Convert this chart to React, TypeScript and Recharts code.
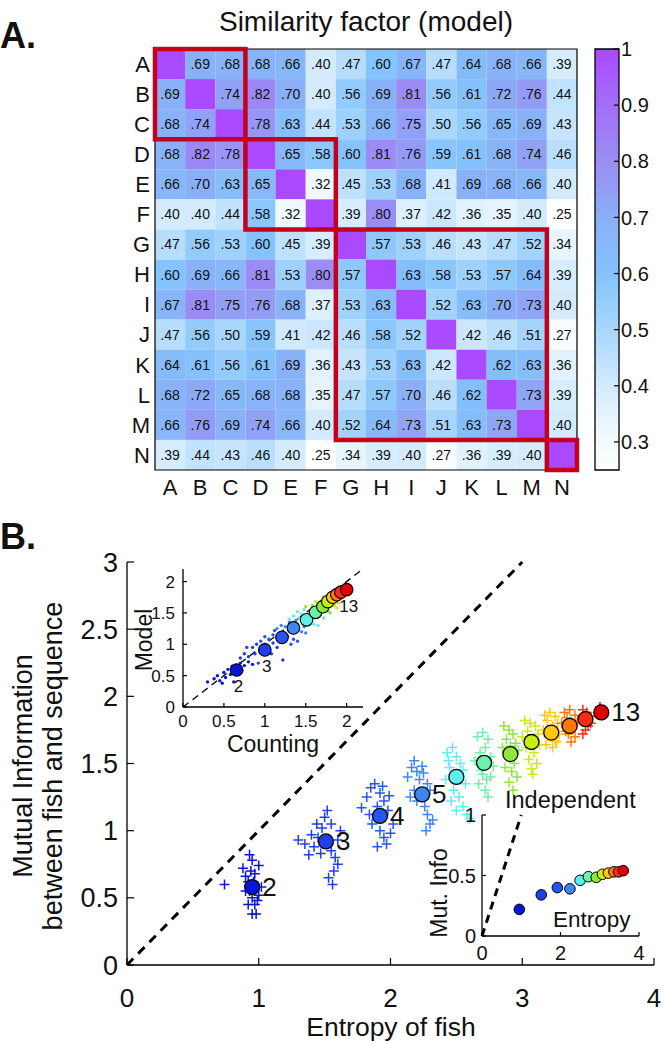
import React from 'react';
import { ScatterChart, Scatter, XAxis, YAxis, ReferenceArea, ReferenceLine } from 'recharts';

// ---------- panel A data ----------
const fishLetters = ['A', 'B', 'C', 'D', 'E', 'F', 'G', 'H', 'I', 'J', 'K', 'L', 'M', 'N'];
const rowA = [1, 0.69, 0.68, 0.68, 0.66, 0.4, 0.47, 0.6, 0.67, 0.47, 0.64, 0.68, 0.66, 0.39];
const rowB = [0.69, 1, 0.74, 0.82, 0.7, 0.4, 0.56, 0.69, 0.81, 0.56, 0.61, 0.72, 0.76, 0.44];
const rowC = [0.68, 0.74, 1, 0.78, 0.63, 0.44, 0.53, 0.66, 0.75, 0.5, 0.56, 0.65, 0.69, 0.43];
const rowD = [0.68, 0.82, 0.78, 1, 0.65, 0.58, 0.6, 0.81, 0.76, 0.59, 0.61, 0.68, 0.74, 0.46];
const rowE = [0.66, 0.7, 0.63, 0.65, 1, 0.32, 0.45, 0.53, 0.68, 0.41, 0.69, 0.68, 0.66, 0.4];
const rowF = [0.4, 0.4, 0.44, 0.58, 0.32, 1, 0.39, 0.8, 0.37, 0.42, 0.36, 0.35, 0.4, 0.25];
const rowG = [0.47, 0.56, 0.53, 0.6, 0.45, 0.39, 1, 0.57, 0.53, 0.46, 0.43, 0.47, 0.52, 0.34];
const rowH = [0.6, 0.69, 0.66, 0.81, 0.53, 0.8, 0.57, 1, 0.63, 0.58, 0.53, 0.57, 0.64, 0.39];
const rowI = [0.67, 0.81, 0.75, 0.76, 0.68, 0.37, 0.53, 0.63, 1, 0.52, 0.63, 0.7, 0.73, 0.4];
const rowJ = [0.47, 0.56, 0.5, 0.59, 0.41, 0.42, 0.46, 0.58, 0.52, 1, 0.42, 0.46, 0.51, 0.27];
const rowK = [0.64, 0.61, 0.56, 0.61, 0.69, 0.36, 0.43, 0.53, 0.63, 0.42, 1, 0.62, 0.63, 0.36];
const rowL = [0.68, 0.72, 0.65, 0.68, 0.68, 0.35, 0.47, 0.57, 0.7, 0.46, 0.62, 1, 0.73, 0.39];
const rowM = [0.66, 0.76, 0.69, 0.74, 0.66, 0.4, 0.52, 0.64, 0.73, 0.51, 0.63, 0.73, 1, 0.4];
const rowN = [0.39, 0.44, 0.43, 0.46, 0.4, 0.25, 0.34, 0.39, 0.4, 0.27, 0.36, 0.39, 0.4, 1];
const similarity = [rowA, rowB, rowC, rowD, rowE, rowF, rowG, rowH, rowI, rowJ, rowK, rowL, rowM, rowN];
// first and last fish of each boxed group
const fishBlocks = [[0, 2], [3, 5], [6, 12], [13, 13]];
const colorbarTicks = [0.3, 0.4, 0.5, 0.6, 0.7, 0.8, 0.9, 1];

// ---------- panel B data ----------
const groupSizes = [2, 3, 4, 5, 6, 7, 8, 9, 10, 11, 12, 13];
const meanEntropy = [0.95, 1.51, 1.92, 2.24, 2.5, 2.71, 2.91, 3.07, 3.22, 3.36, 3.48, 3.6];
const meanMutualInfo = [0.58, 0.92, 1.11, 1.27, 1.4, 1.505, 1.57, 1.66, 1.73, 1.78, 1.83, 1.88];
const independentMutualInfo = [0.22, 0.34, 0.4, 0.39, 0.46, 0.49, 0.485, 0.51, 0.52, 0.53, 0.53, 0.54];
const countingMean = [0.655, 1.0, 1.21, 1.35, 1.51, 1.62, 1.71, 1.77, 1.83, 1.88, 1.93, 2.0];
const modelMean = [0.59, 0.91, 1.11, 1.26, 1.39, 1.51, 1.6, 1.68, 1.75, 1.79, 1.83, 1.87];

const cloud2 = [[0.74, 0.6], [0.88, 0.72], [0.9, 0.66], [0.92, 0.62], [0.93, 0.55], [0.95, 0.5], [0.97, 0.45], [0.92, 0.45], [0.98, 0.38], [0.95, 0.38], [1.0, 0.52], [1.02, 0.58], [0.97, 0.68], [0.95, 0.78], [0.93, 0.82], [1.0, 0.74], [0.9, 0.55], [0.96, 0.62], [0.99, 0.48], [0.94, 0.7]];
const cloud3 = [[1.3, 0.93], [1.35, 0.9], [1.4, 0.97], [1.42, 0.88], [1.45, 0.95], [1.48, 1.02], [1.5, 1.1], [1.52, 1.15], [1.55, 1.05], [1.55, 0.85], [1.58, 0.8], [1.6, 0.75], [1.57, 0.7], [1.53, 0.65], [1.6, 0.93], [1.47, 0.83], [1.62, 1.0], [1.44, 1.05], [1.38, 0.82], [1.56, 0.6]];
const cloud4 = [[1.78, 1.17], [1.82, 1.25], [1.85, 1.32], [1.88, 1.35], [1.92, 1.28], [1.95, 1.22], [1.9, 1.18], [1.98, 1.15], [1.86, 1.05], [1.92, 1.0], [1.95, 0.95], [2.0, 0.98], [1.97, 0.9], [1.9, 0.88], [2.02, 1.05], [1.84, 1.12], [1.94, 1.33], [1.99, 1.26]];
const cloud5 = [[2.13, 1.4], [2.16, 1.47], [2.18, 1.52], [2.2, 1.44], [2.22, 1.38], [2.25, 1.43], [2.28, 1.35], [2.3, 1.3], [2.18, 1.3], [2.2, 1.22], [2.26, 1.18], [2.28, 1.12], [2.3, 1.05], [2.27, 1.0], [2.32, 1.08], [2.15, 1.25], [2.24, 1.48]];
const cloud6 = [[2.43, 1.58], [2.47, 1.62], [2.5, 1.55], [2.53, 1.5], [2.45, 1.47], [2.55, 1.45], [2.42, 1.38], [2.57, 1.35], [2.48, 1.3], [2.52, 1.25], [2.46, 1.22], [2.55, 1.18], [2.58, 1.12], [2.6, 1.09], [2.5, 1.15], [2.44, 1.52]];
const cloud7 = [[2.66, 1.7], [2.7, 1.73], [2.74, 1.68], [2.72, 1.62], [2.68, 1.58], [2.76, 1.55], [2.64, 1.52], [2.78, 1.48], [2.7, 1.42], [2.73, 1.38], [2.67, 1.35], [2.76, 1.4], [2.72, 1.3], [2.74, 1.25], [2.69, 1.45]];
const cloud8 = [[2.86, 1.78], [2.9, 1.75], [2.93, 1.72], [2.88, 1.68], [2.95, 1.65], [2.85, 1.62], [2.97, 1.6], [2.89, 1.55], [2.94, 1.5], [2.87, 1.47], [2.92, 1.44], [2.96, 1.4], [2.9, 1.36], [2.93, 1.3], [2.91, 1.63]];
const cloud9 = [[3.02, 1.82], [3.06, 1.8], [3.1, 1.78], [3.04, 1.74], [3.12, 1.72], [3.0, 1.7], [3.08, 1.68], [3.13, 1.64], [3.03, 1.62], [3.09, 1.58], [3.05, 1.53], [3.11, 1.5], [3.07, 1.46], [3.08, 1.42]];
const cloud10 = [[3.17, 1.86], [3.21, 1.88], [3.25, 1.85], [3.19, 1.82], [3.27, 1.8], [3.23, 1.78], [3.16, 1.75], [3.28, 1.72], [3.2, 1.7], [3.25, 1.67], [3.18, 1.64], [3.23, 1.62], [3.26, 1.66]];
const cloud11 = [[3.32, 1.88], [3.36, 1.9], [3.4, 1.86], [3.34, 1.84], [3.42, 1.82], [3.3, 1.8], [3.38, 1.76], [3.35, 1.72], [3.4, 1.7], [3.37, 1.66], [3.33, 1.74]];
const cloud12 = [[3.46, 1.9], [3.49, 1.88], [3.51, 1.85], [3.47, 1.82], [3.5, 1.78], [3.48, 1.75], [3.46, 1.72], [3.52, 1.8]];
const cloud13 = [[3.58, 1.9], [3.61, 1.86], [3.59, 1.92], [3.62, 1.89]];
const clouds = [cloud2, cloud3, cloud4, cloud5, cloud6, cloud7, cloud8, cloud9, cloud10, cloud11, cloud12, cloud13];

// inset: counting vs model estimates
const dots2 = [[0.3, 0.4], [0.38, 0.45], [0.42, 0.5], [0.45, 0.42], [0.5, 0.55], [0.52, 0.47], [0.55, 0.6], [0.58, 0.52], [0.6, 0.65], [0.63, 0.55], [0.68, 0.62], [0.7, 0.7], [0.72, 0.58], [0.75, 0.66], [0.8, 0.72], [0.85, 0.68], [0.62, 0.4], [0.48, 0.38]];
const dots3 = [[0.7, 0.78], [0.75, 0.85], [0.8, 0.8], [0.85, 0.95], [0.88, 0.85], [0.9, 1.0], [0.95, 0.9], [1.0, 1.0], [1.05, 0.92], [1.1, 1.02], [1.15, 0.95], [1.2, 1.05], [1.22, 0.75], [0.92, 0.7], [1.08, 0.85], [0.78, 0.95]];
const dots4 = [[0.95, 1.05], [1.0, 1.12], [1.05, 1.08], [1.1, 1.15], [1.15, 1.1], [1.2, 1.18], [1.25, 1.05], [1.28, 1.12], [1.32, 1.0], [1.35, 1.08], [1.12, 1.22], [1.4, 1.05]];
const dots5 = [[1.15, 1.25], [1.2, 1.3], [1.25, 1.28], [1.3, 1.35], [1.35, 1.22], [1.4, 1.3], [1.45, 1.2], [1.48, 1.28], [1.38, 1.38], [1.5, 1.18]];
const dots6 = [[1.3, 1.4], [1.35, 1.45], [1.42, 1.42], [1.48, 1.35], [1.55, 1.38], [1.6, 1.32], [1.58, 1.45], [1.65, 1.3], [1.45, 1.48]];
const dots7 = [[1.4, 1.52], [1.48, 1.55], [1.55, 1.5], [1.6, 1.58], [1.68, 1.48], [1.72, 1.42], [1.65, 1.55]];
const dots8 = [[1.5, 1.6], [1.58, 1.62], [1.65, 1.65], [1.72, 1.58], [1.78, 1.52], [1.8, 1.5]];
const dots9 = [[1.62, 1.68], [1.7, 1.7], [1.78, 1.65], [1.85, 1.62], [1.88, 1.58]];
const dots10 = [[1.72, 1.75], [1.8, 1.76], [1.86, 1.7], [1.9, 1.66]];
const dots11 = [[1.78, 1.8], [1.85, 1.8], [1.92, 1.75]];
const dots12 = [[1.85, 1.84], [1.92, 1.86], [1.96, 1.8]];
const dots13 = [[1.95, 1.9], [2.0, 1.88]];
const insetDots = [dots2, dots3, dots4, dots5, dots6, dots7, dots8, dots9, dots10, dots11, dots12, dots13];

// ---------- styles ----------
const FONT = "'Liberation Sans', Arial, Helvetica, sans-serif";
const groupColors = ['#0a14d6', '#1f3fec', '#2455f2', '#3e86f1', '#5eeeee', '#6ff0aa', '#8de83c', '#c9ec12', '#ffc812', '#ff7800', '#ff2a12', '#e00000'];
const cmapStops: [number, string][] = [
  [0.25, '#ffffff'], [0.32, '#eef8fe'], [0.4, '#d3ebfd'], [0.5, '#a9d7fc'], [0.6, '#84c3fc'],
  [0.7, '#8aaff7'], [0.8, '#9a8ef4'], [0.9, '#a36ef8'], [1.0, '#a94aff'],
];
const boxRed = '#c4001c';
const axisLine = { stroke: '#000', strokeWidth: 1.3 };
const tickLine = { stroke: '#000', strokeWidth: 1.2 };

const hex = (c: string) => [1, 3, 5].map((i) => parseInt(c.slice(i, i + 2), 16));
const cmap = (v: number) => {
  for (let i = 1; i < cmapStops.length; i++) {
    const [v1, c1] = cmapStops[i];
    const [v0, c0] = cmapStops[i - 1];
    if (v <= v1) {
      const t = Math.max(0, (v - v0) / (v1 - v0));
      const a = hex(c0);
      const b = hex(c1);
      return `rgb(${a.map((x, k) => Math.round(x + (b[k] - x) * t)).join(',')})`;
    }
  }
  return cmapStops[cmapStops.length - 1][1];
};

const noShape = () => <g />;
const plusShape = (color: string) => (props: any) => {
  const { cx, cy } = props;
  return <path d={`M${cx - 5},${cy}H${cx + 5}M${cx},${cy - 5}V${cy + 5}`} stroke={color} strokeWidth={1.5} fill="none" />;
};
const dotShape = (color: string) => (props: any) => <circle cx={props.cx} cy={props.cy} r={1.7} fill={color} />;

const mainLabelled = [2, 3, 4, 5, 13];
const mainMeanShape = (props: any) => {
  const { cx, cy, payload } = props;
  const color = groupColors[groupSizes.indexOf(payload.group)];
  return (
    <g>
      <circle cx={cx} cy={cy} r={7.5} fill={color} stroke="#000" strokeWidth={1.3} />
      {mainLabelled.includes(payload.group) && (
        <text x={cx + 10} y={cy} dominantBaseline="central" fontSize={26} fill="#111">{payload.group}</text>
      )}
    </g>
  );
};
const insetLabelled = [2, 3, 13];
const insetMeanShape = (props: any) => {
  const { cx, cy, payload } = props;
  const color = groupColors[groupSizes.indexOf(payload.group)];
  return (
    <g>
      <circle cx={cx} cy={cy} r={6.3} fill={color} stroke="#000" strokeWidth={1.1} />
      {insetLabelled.includes(payload.group) && (
        <text x={cx + 2} y={cy + 17} textAnchor="middle" dominantBaseline="central" fontSize={17} fill="#111">{payload.group}</text>
      )}
    </g>
  );
};
const independentShape = (props: any) => {
  const { cx, cy, payload } = props;
  const color = groupColors[groupSizes.indexOf(payload.group)];
  return <circle cx={cx} cy={cy} r={5.3} fill={color} stroke="#000" strokeWidth={1} />;
};

const toPoints = (pairs: number[][]) => pairs.map(([x, y]) => ({ x, y }));

function Heatmap() {
  const cells = similarity.flatMap((row, r) => row.map((v, c) => ({ r, c, v })));
  return (
    <ScatterChart width={600} height={510} margin={{ top: 49, right: 23, bottom: 0, left: 125 }}>
      <XAxis type="number" dataKey="x" domain={[-0.5, 13.5]} ticks={fishLetters.map((_, i) => i)} interval={0}
        tickFormatter={(i) => fishLetters[i]} height={40} tickSize={0} tickMargin={9} axisLine={false} tickLine={false}
        tick={{ fontSize: 22, fill: '#111' }} />
      <YAxis type="number" dataKey="y" domain={[-0.5, 13.5]} reversed ticks={fishLetters.map((_, i) => i)} interval={0}
        tickFormatter={(i) => fishLetters[i]} width={30} tickSize={0} tickMargin={5} axisLine={false} tickLine={false}
        tick={{ fontSize: 22, fill: '#111' }} />
      <Scatter data={cells.map((d) => ({ x: d.c, y: d.r }))} shape={noShape} isAnimationActive={false} />
      {cells.map((d) => (
        <ReferenceArea key={`${d.r}-${d.c}`} x1={d.c - 0.5} x2={d.c + 0.5} y1={d.r - 0.5} y2={d.r + 0.5}
          fill={cmap(d.v)} fillOpacity={1} stroke="none"
          label={d.r === d.c ? undefined : { value: d.v.toFixed(2).slice(1), position: 'center', fontSize: 14, fill: '#111' }} />
      ))}
      <ReferenceArea x1={-0.5} x2={13.5} y1={-0.5} y2={13.5} fill="none" stroke="#000" strokeWidth={1.2} />
      {fishBlocks.map(([a, b]) => (
        <ReferenceArea key={`blk${a}`} x1={a - 0.5} x2={b + 0.5} y1={a - 0.5} y2={b + 0.5}
          fill="none" stroke={boxRed} strokeWidth={4.5} />
      ))}
    </ScatterChart>
  );
}

function Colorbar() {
  return (
    <ScatterChart width={104} height={510} margin={{ top: 49, right: 0, bottom: 40, left: 35 }}>
      <defs>
        <linearGradient id="simCbar" x1="0" y1="1" x2="0" y2="0">
          {cmapStops.map(([v, c]) => (
            <stop key={v} offset={(v - 0.25) / 0.75} stopColor={c} />
          ))}
        </linearGradient>
      </defs>
      <XAxis type="number" dataKey="x" domain={[0, 1]} hide />
      <YAxis yAxisId="left" type="number" domain={[0.25, 1]} ticks={colorbarTicks} width={0} tick={false}
        tickSize={-5} axisLine={false} tickLine={tickLine} />
      <YAxis type="number" dataKey="y" orientation="right" domain={[0.25, 1]} ticks={colorbarTicks} interval={0} width={45}
        tickSize={-5} tickMargin={7} axisLine={false} tickLine={tickLine} tick={{ fontSize: 20, fill: '#111' }} />
      <Scatter data={[{ x: 0.5, y: 0.5 }]} shape={noShape} isAnimationActive={false} />
      <ReferenceArea x1={0} x2={1} y1={0.25} y2={1} fill="url(#simCbar)" fillOpacity={1} stroke="#000" strokeWidth={1.3} />
    </ScatterChart>
  );
}

function MainScatter() {
  const means = groupSizes.map((g, i) => ({ x: meanEntropy[i], y: meanMutualInfo[i], group: g }));
  const xt = [0, 1, 2, 3, 4];
  const yt = [0, 0.5, 1, 1.5, 2, 2.5, 3];
  return (
    <ScatterChart width={664} height={501} margin={{ top: 22, right: 10, bottom: 0, left: 0 }}>
      <XAxis type="number" dataKey="x" domain={[0, 4]} ticks={xt} interval={0} height={76} tickSize={-7} tickMargin={31}
        axisLine={axisLine} tickLine={tickLine} tick={{ fontSize: 26, fill: '#111' }} />
      <XAxis xAxisId="top" orientation="top" type="number" domain={[0, 4]} ticks={xt} interval={0} height={0}
        tickSize={-7} tick={false} axisLine={axisLine} tickLine={tickLine} />
      <YAxis type="number" dataKey="y" domain={[0, 3]} ticks={yt} interval={0} width={127} tickSize={-7} tickMargin={16}
        axisLine={axisLine} tickLine={tickLine} tick={{ fontSize: 27, fill: '#111' }} />
      <YAxis yAxisId="right" orientation="right" type="number" domain={[0, 3]} ticks={yt} interval={0} width={0}
        tickSize={-7} tick={false} axisLine={axisLine} tickLine={tickLine} />
      <ReferenceLine segment={[{ x: 0, y: 0 }, { x: 3, y: 3 }]} stroke="#000" strokeWidth={3} strokeDasharray="9 7" />
      {clouds.map((cl, i) => (
        <Scatter key={i} data={toPoints(cl)} shape={plusShape(groupColors[i])} isAnimationActive={false} />
      ))}
      <Scatter data={means} shape={mainMeanShape} isAnimationActive={false} />
    </ScatterChart>
  );
}

function CountingInset() {
  const means = groupSizes.map((g, i) => ({ x: countingMean[i], y: modelMean[i], group: g }));
  const t = [0, 0.5, 1, 1.5, 2];
  return (
    <ScatterChart width={241} height={195} margin={{ top: 4, right: 7, bottom: 0, left: 0 }}>
      <XAxis type="number" dataKey="x" domain={[0, 2.2]} ticks={t} interval={0} height={53} tickSize={-4} tickMargin={12}
        axisLine={axisLine} tickLine={tickLine} tick={{ fontSize: 17, fill: '#111' }} />
      <XAxis xAxisId="top" orientation="top" type="number" domain={[0, 2.2]} ticks={t} interval={0} height={0}
        tickSize={-4} tick={false} axisLine={axisLine} tickLine={tickLine} />
      <YAxis type="number" dataKey="y" domain={[0, 2.2]} ticks={t} interval={0} width={54} tickSize={-4} tickMargin={12}
        axisLine={axisLine} tickLine={tickLine} tick={{ fontSize: 17, fill: '#111' }} />
      <YAxis yAxisId="right" orientation="right" type="number" domain={[0, 2.2]} ticks={t} interval={0} width={0}
        tickSize={-4} tick={false} axisLine={axisLine} tickLine={tickLine} />
      <ReferenceLine segment={[{ x: 0, y: 0 }, { x: 2.2, y: 2.2 }]} stroke="#000" strokeWidth={1.3} strokeDasharray="7 5" />
      {insetDots.map((d, i) => (
        <Scatter key={i} data={toPoints(d)} shape={dotShape(groupColors[i])} isAnimationActive={false} />
      ))}
      <Scatter data={means} shape={insetMeanShape} isAnimationActive={false} />
    </ScatterChart>
  );
}

function IndependentInset() {
  const pts = groupSizes.map((g, i) => ({ x: meanEntropy[i], y: independentMutualInfo[i], group: g }));
  const xt = [0, 2, 4];
  const yt = [0, 0.5, 1];
  return (
    <ScatterChart width={225} height={173} margin={{ top: 25, right: 11, bottom: 0, left: 0 }}>
      <XAxis type="number" dataKey="x" domain={[0, 4]} ticks={xt} interval={0} height={27} tickSize={-4} tickMargin={14}
        axisLine={axisLine} tickLine={tickLine} tick={{ fontSize: 20, fill: '#111' }} />
      <XAxis xAxisId="top" orientation="top" type="number" domain={[0, 4]} ticks={xt} interval={0} height={0}
        tickSize={-4} tick={false} axisLine={axisLine} tickLine={tickLine} />
      <YAxis type="number" dataKey="y" domain={[0, 1]} ticks={yt} interval={0} width={57} tickSize={-4} tickMargin={10}
        axisLine={axisLine} tickLine={tickLine} tick={{ fontSize: 20, fill: '#111' }} />
      <YAxis yAxisId="right" orientation="right" type="number" domain={[0, 1]} ticks={yt} interval={0} width={0}
        tickSize={-4} tick={false} axisLine={axisLine} tickLine={tickLine} />
      <ReferenceLine segment={[{ x: 0, y: 0 }, { x: 1, y: 1 }]} stroke="#000" strokeWidth={3} strokeDasharray="8 6" />
      <Scatter data={pts} shape={independentShape} isAnimationActive={false} />
    </ScatterChart>
  );
}

const at = (left: number, top: number): React.CSSProperties => ({ position: 'absolute', left, top });

export default function App() {
  return (
    <div style={{ position: 'absolute', left: 0, top: 0, width: 664, height: 1041, background: '#fff', fontFamily: FONT, overflow: 'hidden' }}>
      <div style={at(0, 0)}><Heatmap /></div>
      <div style={at(560, 0)}><Colorbar /></div>
      <div style={at(0, 540)}><MainScatter /></div>
      <div style={at(129, 565)}><CountingInset /></div>
      <div style={at(425, 790)}><IndependentInset /></div>
      <svg width={664} height={1041} style={{ position: 'absolute', left: 0, top: 0, pointerEvents: 'none' }} fontFamily={FONT} fill="#111">
        <text x={0} y={48} fontSize={36} fontWeight="bold">A.</text>
        <text x={366} y={31} fontSize={28} textAnchor="middle">Similarity factor (model)</text>
        <text x={0} y={549} fontSize={36} fontWeight="bold">B.</text>
        <text transform="translate(31.5,766) rotate(-90)" fontSize={27} textAnchor="middle">Mutual Information</text>
        <text transform="translate(62,766) rotate(-90)" fontSize={27} textAnchor="middle">between fish and sequence</text>
        <text x={391} y={1036} fontSize={26.5} textAnchor="middle">Entropy of fish</text>
        <text transform="translate(151.5,640) rotate(-90)" fontSize={23} textAnchor="middle">Model</text>
        <text x={273} y={751.5} fontSize={23} textAnchor="middle">Counting</text>
        <text x={505} y={808} fontSize={23.5}>Independent</text>
        <text x={553} y={927} fontSize={22.5}>Entropy</text>
        <text transform="translate(447,893) rotate(-90)" fontSize={23} textAnchor="middle">Mut. Info</text>
      </svg>
    </div>
  );
}
